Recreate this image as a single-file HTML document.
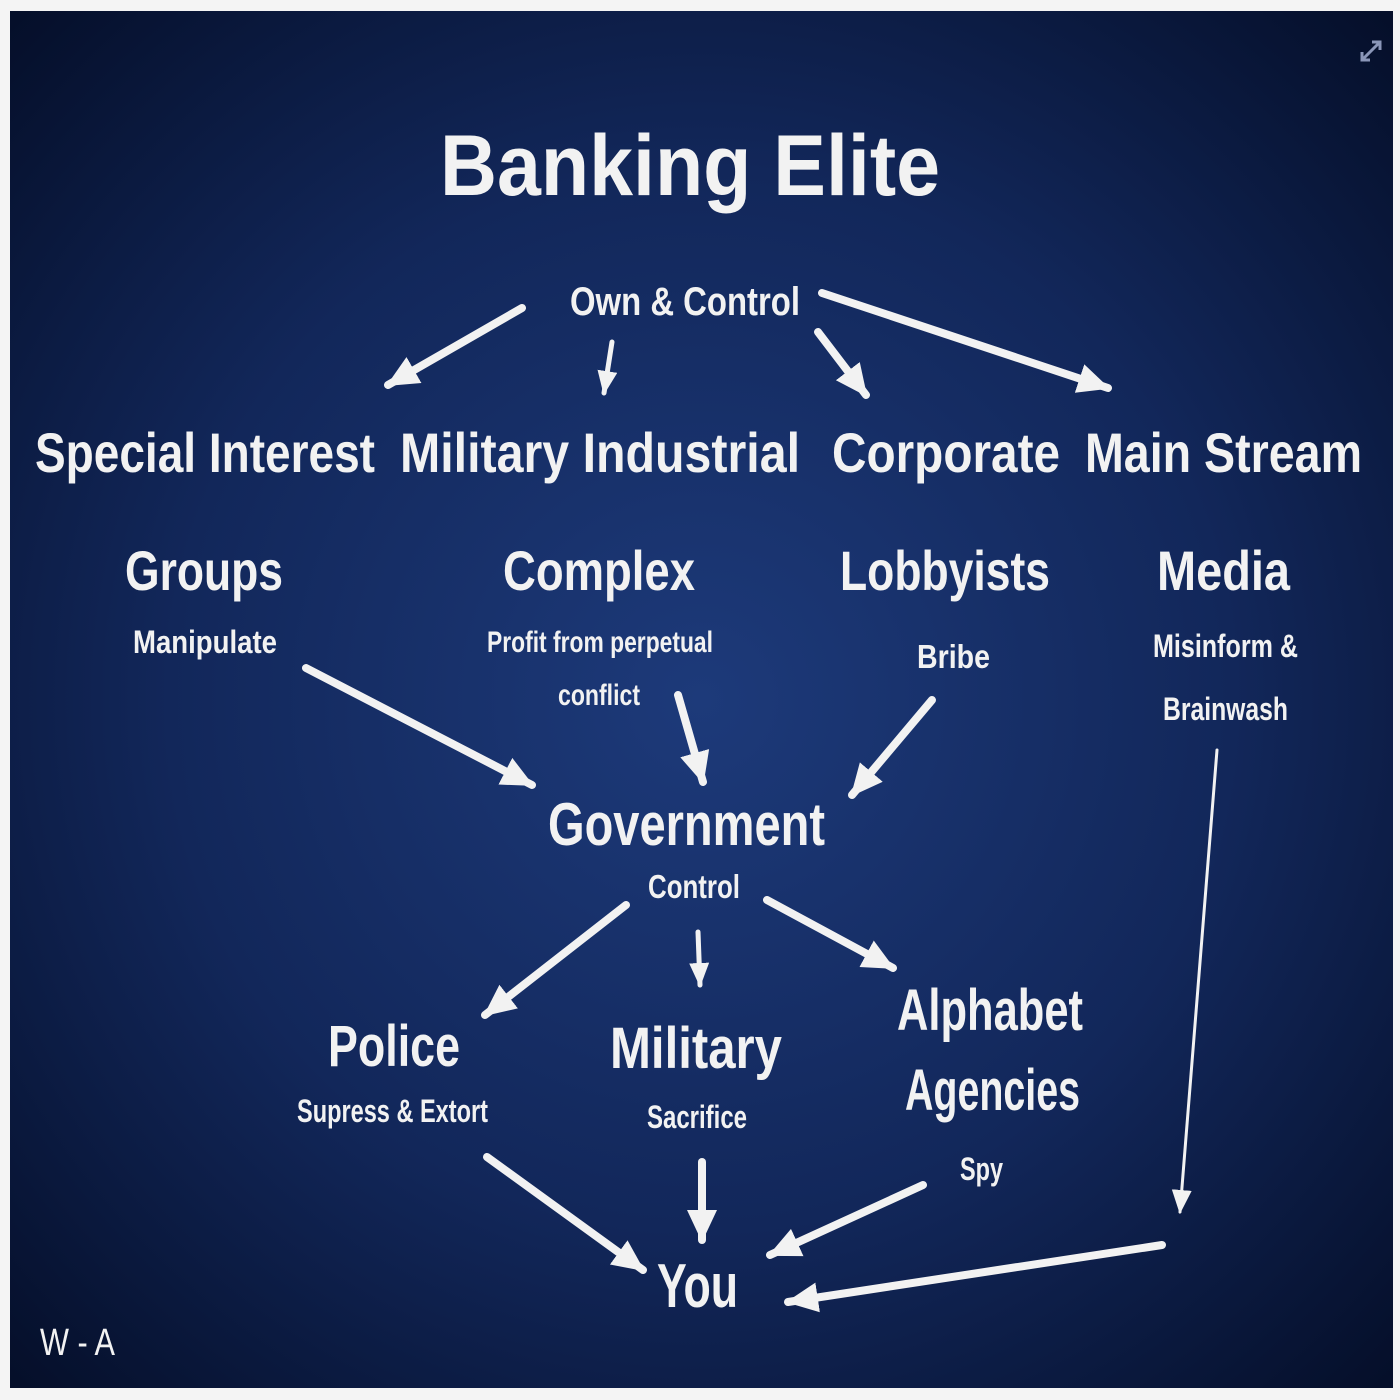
<!DOCTYPE html>
<html><head><meta charset="utf-8"><style>
html,body{margin:0;padding:0;background:#f4f4f4;}
svg{display:block}
text{font-family:"Liberation Sans",sans-serif;font-weight:bold;fill:#f2f2f2}
</style></head><body>
<svg width="1400" height="1400" viewBox="0 0 1400 1400" xmlns="http://www.w3.org/2000/svg">
<defs>
<radialGradient id="bg" cx="0.5" cy="0.5" r="0.7">
<stop offset="0" stop-color="#1d3a7a"/>
<stop offset="0.55" stop-color="#12275a"/>
<stop offset="1" stop-color="#050f2a"/>
</radialGradient>
<marker id="ah" markerUnits="userSpaceOnUse" markerWidth="40" markerHeight="40" refX="30" refY="15" orient="auto">
<path d="M0,0 L32,15 L0,30 Z" fill="#f2f2f2"/>
</marker>
<marker id="as" markerUnits="userSpaceOnUse" markerWidth="30" markerHeight="30" refX="22" refY="10" orient="auto">
<path d="M0,0 L24,10 L0,20 Z" fill="#f2f2f2"/>
</marker>
</defs>
<rect x="0" y="0" width="1400" height="1400" fill="#f4f4f4"/>
<rect x="10" y="11" width="1383" height="1377" fill="url(#bg)"/>
<path d="M1362,60 L1380,42 M1372,42 L1380,42 L1380,50 M1362,52 L1362,60 L1370,60" stroke="#8a96b8" stroke-width="3" fill="none"/>

<text x="440" y="195" font-size="86" textLength="500" lengthAdjust="spacingAndGlyphs">Banking Elite</text>
<text x="570" y="315" font-size="40" textLength="230" lengthAdjust="spacingAndGlyphs">Own &amp; Control</text>

<text x="35" y="472" font-size="56" textLength="340" lengthAdjust="spacingAndGlyphs">Special Interest</text>
<text x="400" y="472" font-size="56" textLength="400" lengthAdjust="spacingAndGlyphs">Military Industrial</text>
<text x="832" y="472" font-size="56" textLength="228" lengthAdjust="spacingAndGlyphs">Corporate</text>
<text x="1085" y="472" font-size="56" textLength="277" lengthAdjust="spacingAndGlyphs">Main Stream</text>

<text x="125" y="590" font-size="56" textLength="158" lengthAdjust="spacingAndGlyphs">Groups</text>
<text x="503" y="590" font-size="56" textLength="192" lengthAdjust="spacingAndGlyphs">Complex</text>
<text x="840" y="590" font-size="56" textLength="210" lengthAdjust="spacingAndGlyphs">Lobbyists</text>
<text x="1157" y="590" font-size="56" textLength="133" lengthAdjust="spacingAndGlyphs">Media</text>

<text x="133" y="653" font-size="32" textLength="144" lengthAdjust="spacingAndGlyphs">Manipulate</text>
<text x="487" y="652" font-size="30" textLength="226" lengthAdjust="spacingAndGlyphs">Profit from perpetual</text>
<text x="558" y="705" font-size="30" textLength="82" lengthAdjust="spacingAndGlyphs">conflict</text>
<text x="917" y="668" font-size="33" textLength="73" lengthAdjust="spacingAndGlyphs">Bribe</text>
<text x="1153" y="657" font-size="32" textLength="145" lengthAdjust="spacingAndGlyphs">Misinform &amp;</text>
<text x="1163" y="720" font-size="32" textLength="125" lengthAdjust="spacingAndGlyphs">Brainwash</text>

<text x="548" y="845" font-size="60" textLength="277" lengthAdjust="spacingAndGlyphs">Government</text>
<text x="648" y="898" font-size="33" textLength="92" lengthAdjust="spacingAndGlyphs">Control</text>

<text x="328" y="1066" font-size="58" textLength="132" lengthAdjust="spacingAndGlyphs">Police</text>
<text x="610" y="1068" font-size="58" textLength="172" lengthAdjust="spacingAndGlyphs">Military</text>
<text x="897" y="1030" font-size="58" textLength="186" lengthAdjust="spacingAndGlyphs">Alphabet</text>
<text x="905" y="1110" font-size="58" textLength="175" lengthAdjust="spacingAndGlyphs">Agencies</text>
<text x="297" y="1122" font-size="32" textLength="191" lengthAdjust="spacingAndGlyphs">Supress &amp; Extort</text>
<text x="647" y="1128" font-size="32" textLength="100" lengthAdjust="spacingAndGlyphs">Sacrifice</text>
<text x="960" y="1180" font-size="32" textLength="43" lengthAdjust="spacingAndGlyphs">Spy</text>

<text x="657" y="1307" font-size="62" textLength="81" lengthAdjust="spacingAndGlyphs">You</text>
<text x="40" y="1355" font-size="38" font-weight="normal" style="font-weight:normal" fill="#dcdcdc" textLength="75" lengthAdjust="spacingAndGlyphs">W - A</text>

<g stroke="#f2f2f2" stroke-width="8" stroke-linecap="round" fill="none">
<line x1="522" y1="308" x2="388" y2="385" marker-end="url(#ah)"/>
<line x1="612" y1="342" x2="604" y2="393" stroke-width="5" marker-end="url(#as)"/>
<line x1="818" y1="332" x2="866" y2="395" marker-end="url(#ah)"/>
<line x1="822" y1="293" x2="1108" y2="388" marker-end="url(#ah)"/>
<line x1="306" y1="668" x2="532" y2="785" marker-end="url(#ah)"/>
<line x1="678" y1="695" x2="703" y2="782" marker-end="url(#ah)"/>
<line x1="932" y1="700" x2="852" y2="795" marker-end="url(#ah)"/>
<line x1="1217" y1="750" x2="1180" y2="1212" stroke-width="3" marker-end="url(#as)"/>
<line x1="626" y1="905" x2="485" y2="1015" marker-end="url(#ah)"/>
<line x1="698" y1="932" x2="700" y2="985" stroke-width="5" marker-end="url(#as)"/>
<line x1="767" y1="900" x2="893" y2="968" marker-end="url(#ah)"/>
<line x1="487" y1="1157" x2="643" y2="1270" marker-end="url(#ah)"/>
<line x1="702" y1="1162" x2="702" y2="1240" marker-end="url(#ah)"/>
<line x1="923" y1="1185" x2="770" y2="1255" marker-end="url(#ah)"/>
<line x1="1162" y1="1245" x2="788" y2="1302" marker-end="url(#ah)"/>
</g>
</svg>
</body></html>
